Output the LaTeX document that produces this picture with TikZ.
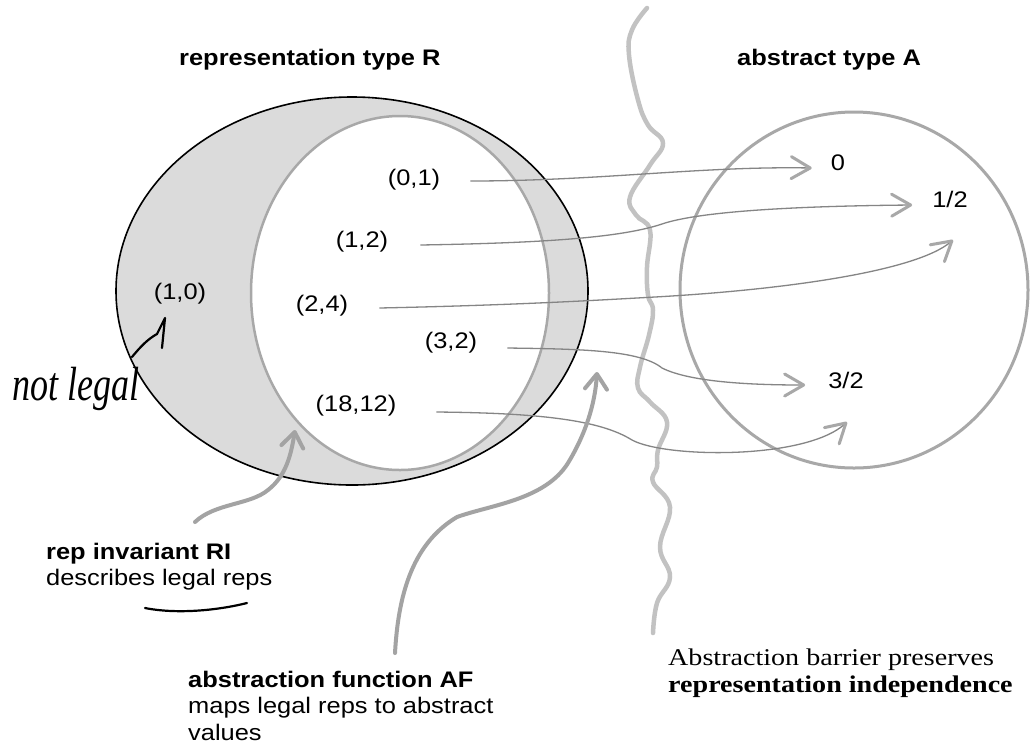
\documentclass[tikz,border=0pt]{standalone}
\usepackage{fontspec}
\setmainfont{Liberation Sans}[FakeStretch=1.13]
\newfontfamily\notefont{Liberation Serif}[FakeStretch=1.17]
\newfontfamily\handfont{Liberation Serif}[FakeStretch=0.75]
\usetikzlibrary{arrows.meta}

\definecolor{ringfill}{gray}{0.86}
\definecolor{ringline}{gray}{0.66}
\definecolor{mapgray}{gray}{0.52}
\definecolor{tipgray}{gray}{0.66}
\definecolor{calloutgray}{gray}{0.64}
\definecolor{barriergray}{gray}{0.76}

\begin{document}
\begin{tikzpicture}[x=1pt,y=-1pt,
  plain/.style={inner sep=0pt, font=\fontsize{22.5}{27}\selectfont},
  heading/.style={inner sep=0pt, font=\fontsize{22.5}{27}\selectfont\bfseries},
  note/.style={inner sep=0pt, font=\notefont\fontsize{24}{28}\selectfont},
  handtext/.style={inner sep=0pt, font=\handfont\itshape\fontsize{48}{48}\selectfont},
  mapsto/.style={draw=mapgray, line width=1.3pt,
    -{Straight Barb[length=19pt,width=22pt,line width=3pt,round,color=tipgray]}},
  callout/.style={draw=calloutgray, line width=4pt, line cap=round,
    -{Straight Barb[length=15pt,width=22pt,line width=4pt,round]}},
  barrier/.style={draw=barriergray, line width=4.5pt, line cap=round, line join=round},
  hand/.style={draw=black, line width=2.2pt, line cap=round, line join=round}
]
\fill[white] (0,0) rectangle (1032,748);
\useasboundingbox (0,0) rectangle (1032,748);

% abstraction barrier
\draw[barrier] plot[smooth, tension=0.7] coordinates {(647,8) (632,30) (629,55) (638,100)
  (648,125) (663,143) (650,165) (630,197) (636,215) (650,230) (647,267) (648,295)
  (653,310) (649,335) (640,367) (638,388) (650,402) (667,422) (658,450) (657,467)
  (653,482) (670,507) (660,547) (670,577) (657,603) (653,633)};

% representation space and the legal reps inside it
\draw[black, line width=1.6pt, fill=ringfill] (352,291) ellipse [x radius=236, y radius=194];
\draw[ringline, line width=2.5pt, fill=white] (400,293) ellipse [x radius=149, y radius=177];
% abstract space
\draw[ringline, line width=3pt] (854,290) ellipse [x radius=174, y radius=178];

% titles
\node[heading, anchor=base west] (repTitle) at (179,65) {representation type R};
\node[heading, anchor=base west] (absTitle) at (737,65) {abstract type A};

% representation values
\node[plain] (r01) at (414,180) {(0,1)};
\node[plain] (r12) at (362,242) {(1,2)};
\node[plain] (r10) at (180,294) {(1,0)};
\node[plain] (r24) at (322,306) {(2,4)};
\node[plain] (r32) at (451,343) {(3,2)};
\node[plain] (r1812) at (356,406) {(18,12)};

% abstract values
\node[plain] (a0) at (838,163) {0};
\node[plain] (ahalf) at (950,199) {1/2};
\node[plain] (a32) at (846,380) {3/2};

% free ends of the mappings
\coordinate (e24) at (953,240);
\coordinate (e1812) at (847,422);

% abstraction function mappings
\draw[mapsto] ([shift={(30,1)}]r01.east) .. controls (600,181) and (700,166) .. ([shift={(-19,5)}]a0.west);
\draw[mapsto] ([shift={(32,3)}]r12.east) .. controls (540,243) and (620,238) .. (662,224)
  .. controls (700,211) and (800,206) .. ([shift={(-20,6)}]ahalf.west);
\draw[mapsto] ([shift={(31,2)}]r24.east) .. controls (520,305) and (600,300) .. (655,297)
  .. controls (780,290) and (915,272) .. (e24);
\draw[mapsto] ([shift={(30,5)}]r32.east) .. controls (580,349) and (640,350) .. (662,368)
  .. controls (690,382) and (750,385) .. ([shift={(-23,5)}]a32.west);
\draw[mapsto] ([shift={(40,6)}]r1812.east) .. controls (540,413) and (600,420) .. (632,440)
  .. controls (665,458) and (805,460) .. (e1812);

% captions
\node[heading, anchor=base west] (riName) at (46,559) {rep invariant RI};
\node[plain, anchor=base west] (riDesc) at (46,585) {describes legal reps};
\node[heading, anchor=base west] (afName) at (188,687) {abstraction function AF};
\node[plain, anchor=base west] (afDescA) at (188,713) {maps legal reps to abstract};
\node[plain, anchor=base west] (afDescB) at (188,740) {values};
\node[note, anchor=base west] (barrierA) at (668,665) {Abstraction barrier preserves};
\node[note, anchor=base west, font=\notefont\fontsize{24}{28}\selectfont\bfseries] (barrierB) at (668,692) {representation independence};

% callout arrows
\coordinate (riTail) at (195,522);
\coordinate (riHead) at (295,430);
\coordinate (afTail) at (395,653);
\coordinate (afHead) at (597,372);
\draw[callout] (riTail) .. controls (215,503) and (250,505) .. (268,490)
  .. controls (286,476) and (291,455) .. (riHead);
\draw[callout] (afTail) .. controls (398,600) and (410,545) .. (457,517)
  .. controls (490,505) and (545,500) .. (568,463)
  .. controls (585,435) and (595,405) .. (afHead);

% handwritten remarks
\node[handtext, anchor=base west] (notLegal) at (12,400) {not legal};
\coordinate (handTail) at (132,357);
\coordinate (handTip) at (165,318);
\draw[hand] (handTail) .. controls (141,346) and (148,339) .. (157,334) -- (handTip) -- (162,348);
\coordinate (ulStart) at (145,608);
\coordinate (ulEnd) at (247,603);
\draw[hand] (ulStart) .. controls (175,614) and (215,611) .. (ulEnd);
\end{tikzpicture}
\end{document}
